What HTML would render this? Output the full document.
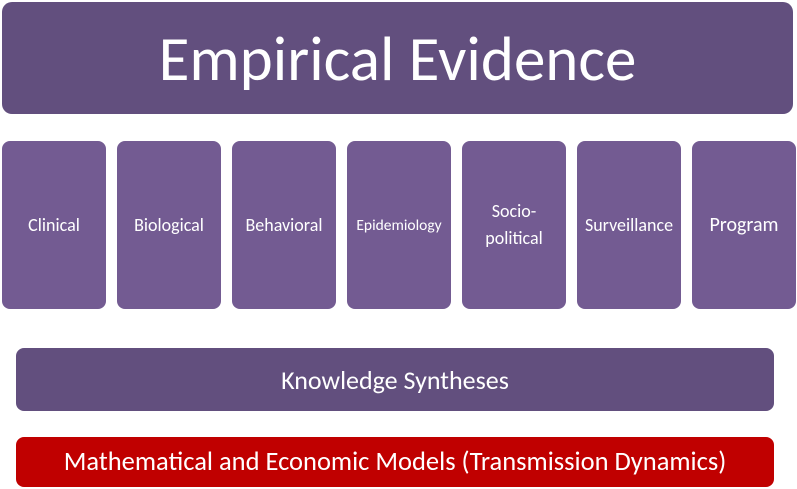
<!DOCTYPE html>
<html><head><meta charset="utf-8"><style>
body{margin:0;width:797px;height:489px;background:#fff;position:relative;overflow:hidden;font-family:"Carlito","Liberation Sans",sans-serif;color:#fff}
.b{position:absolute;display:flex;align-items:center;justify-content:center;text-align:center;border-radius:8px}
.s{top:141px;width:104px;height:168px;background:#735b92;font-size:18px;line-height:27px}
</style></head><body>
<div class="b" style="left:2px;top:2px;width:791px;height:112px;background:#624f7e;font-size:63px;border-radius:10px">Empirical Evidence</div>
<div class="b s" style="left:2px">Clinical</div>
<div class="b s" style="left:117px">Biological</div>
<div class="b s" style="left:232px">Behavioral</div>
<div class="b s" style="left:347px;font-size:15.5px">Epidemiology</div>
<div class="b s" style="left:462px">Socio-<br>political</div>
<div class="b s" style="left:577px">Surveillance</div>
<div class="b s" style="left:692px;font-size:20px">Program</div>
<div class="b" style="left:16px;top:348px;width:758px;height:63px;background:#624f7e;font-size:26px">Knowledge Syntheses</div>
<div class="b" style="left:16px;top:437px;width:758px;height:50px;background:#c00000;font-size:26.5px">Mathematical and Economic Models (Transmission Dynamics)</div>
</body></html>
